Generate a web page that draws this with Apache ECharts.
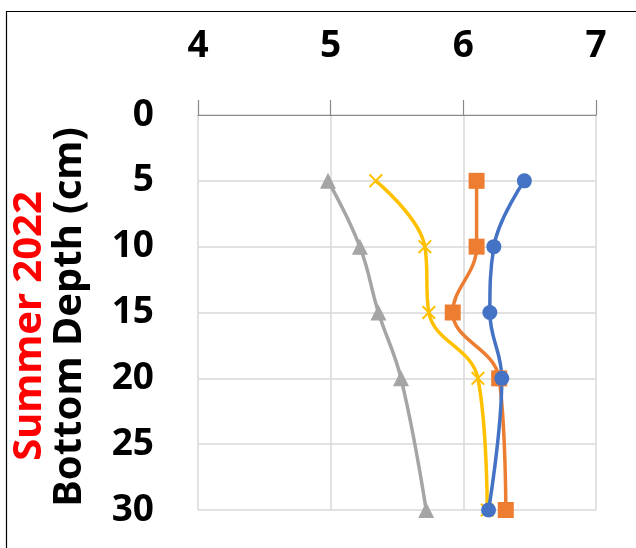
<!DOCTYPE html>
<html><head><meta charset="utf-8">
<script src="https://cdn.jsdelivr.net/npm/echarts@6/dist/echarts.min.js"></script>
<style>html,body{margin:0;padding:0;background:#fff}#c{width:636px;height:548px}</style>
</head><body><div id="c"></div>
<script>
const depths = [5, 10, 15, 20, 30];
const blueVals = [6.46, 6.23, 6.20, 6.29, 6.19];
const orangeVals = [6.10, 6.10, 5.92, 6.27, 6.32];
const grayVals = [4.98, 5.22, 5.36, 5.53, 5.72];
const yellowVals = [5.34, 5.71, 5.74, 6.11, 6.18];
const xTicks = [4, 5, 6, 7];
const yTicks = [0, 5, 10, 15, 20, 25, 30];
const yTitle = 'Bottom Depth (cm)';
const yTitle2 = 'Summer 2022';

const pairs = v => v.map((x, i) => [x, depths[i]]);
const FONT = '"Noto Sans", sans-serif';
const crossPath = 'path://M0,1L1,0L10,9L9,10Z M9,0L10,1L1,10L0,9Z';

function mk(name, vals, color, symbol, size) {
  return {
    name, type: 'line', data: pairs(vals), smooth: 0.4,
    symbol, symbolSize: size, showSymbol: true,
    lineStyle: {color, width: 3.5},
    itemStyle: {color},
    z: 3
  };
}

const chart = echarts.init(document.getElementById('c'), null, {renderer: 'canvas'});
chart.setOption({
  animation: false,
  backgroundColor: '#fff',
  grid: {left: 198, right: 40, top: 115, bottom: 38},
  xAxis: {
    type: 'value', position: 'top', min: 4, max: 7, interval: 1,
    axisLine: {show: true, lineStyle: {color: '#898989', width: 1.2}},
    axisTick: {show: true, length: 15, lineStyle: {color: '#898989', width: 1.2}},
    axisLabel: {margin: 50, fontSize: 37, fontWeight: 'bold', color: '#000', fontFamily: FONT,
      formatter: v => xTicks.includes(v) ? String(v) : ''},
    splitLine: {show: true, lineStyle: {color: '#d9d9d9', width: 1.5}}
  },
  yAxis: {
    type: 'value', inverse: true, min: 0, max: 30, interval: 5,
    axisLine: {show: false}, axisTick: {show: false},
    axisLabel: {margin: 44, fontSize: 37, fontWeight: 'bold', color: '#000', fontFamily: FONT,
      formatter: v => yTicks.includes(v) ? String(v) : ''},
    splitLine: {show: true, lineStyle: {color: '#d9d9d9', width: 1.5}}
  },
  series: [
    mk('Gray', grayVals, '#A5A5A5', 'triangle', 16),
    mk('Yellow', yellowVals, '#FFC000', crossPath, 14),
    mk('Orange', orangeVals, '#ED7D31', 'rect', 16),
    mk('Blue', blueVals, '#4472C4', 'circle', 15)
  ],
  graphic: [
    {type: 'rect', left: 4, top: 9, shape: {x: 0, y: 0, width: 700, height: 600},
      style: {fill: 'none', stroke: '#000', lineWidth: 1.2}, z: 0, silent: true},
    {type: 'text', x: 70, y: 317, rotation: Math.PI / 2, z: 10,
      style: {text: yTitle, fontSize: 40, fontWeight: 'bold', fill: '#000', fontFamily: FONT,
        textAlign: 'center', textVerticalAlign: 'middle'}},
    {type: 'text', x: 30, y: 326, rotation: Math.PI / 2, z: 10,
      style: {text: yTitle2, fontSize: 40, fontWeight: 'bold', fill: '#ff0000', fontFamily: FONT,
        textAlign: 'center', textVerticalAlign: 'middle'}}
  ]
});
</script></body></html>
